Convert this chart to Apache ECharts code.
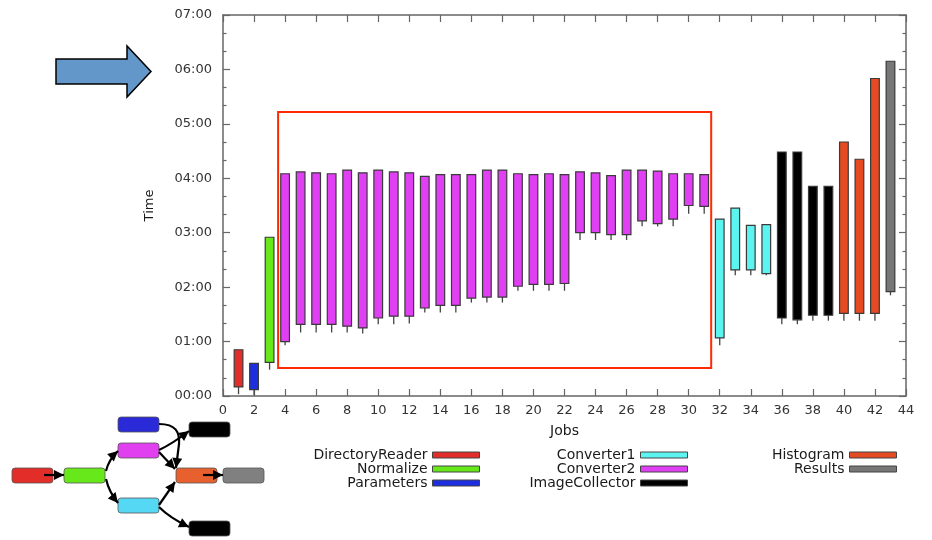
<!DOCTYPE html>
<html>
<head>
<meta charset="utf-8">
<script src="https://cdn.jsdelivr.net/npm/echarts@6/dist/echarts.min.js"></script>
<style>
html,body{margin:0;padding:0;background:#fff;}
#chart{width:932px;height:540px;}
</style>
</head>
<body>
<div id="chart"></div>
<script>
// ---- data (times in minutes) ----
const jobs = [1,2,3,4,5,6,7,8,9,10,11,12,13,14,15,16,17,18,19,20,21,22,23,24,25,26,27,28,29,30,31,32,33,34,35,36,37,38,39,40,41,42,43];
const jobType = ['DirectoryReader','Parameters','Normalize',
  'Converter2','Converter2','Converter2','Converter2','Converter2','Converter2','Converter2',
  'Converter2','Converter2','Converter2','Converter2','Converter2','Converter2','Converter2',
  'Converter2','Converter2','Converter2','Converter2','Converter2','Converter2','Converter2',
  'Converter2','Converter2','Converter2','Converter2','Converter2','Converter2','Converter2',
  'Converter1','Converter1','Converter1','Converter1',
  'ImageCollector','ImageCollector','ImageCollector','ImageCollector',
  'Histogram','Histogram','Histogram','Results'];
const endMin   = [51,36,175,245,247,246,245,249,246,249,247,246,242,244,244,244,249,249,245,244,245,244,247,246,243,249,249,248,245,245,244,195,207,188,189,269,269,231,231,280,261,350,369];
const startMin = [10,7,37,60,79,79,79,77,75,86,88,88,97,100,100,108,109,109,121,123,123,124,180,180,178,178,193,190,195,210,209,64,139,139,135,86,84,89,89,91,91,91,115];
const lowMin   = [2,1,29,56,70,70,70,70,69,79,79,80,92,92,92,103,103,103,116,116,116,116,172,172,172,172,187,187,187,201,201,56,133,133,133,79,79,83,83,83,83,83,111];
const yTicks = ['00:00','01:00','02:00','03:00','04:00','05:00','06:00','07:00'];
const legendCols = [
  ['DirectoryReader','Normalize','Parameters'],
  ['Converter1','Converter2','ImageCollector'],
  ['Histogram','Results']
];
const typeColors = {
  DirectoryReader:'#e22d29', Normalize:'#66e81a', Parameters:'#1c2ee0',
  Converter1:'#5cf4f0', Converter2:'#e03ff4', ImageCollector:'#000000',
  Histogram:'#e64a22', Results:'#777777'
};
const highlight = {x:[3.55,31.45], y:[31,313]};

// ---- chart ----
const chart = echarts.init(document.getElementById('chart'));
const typeOrder = ['DirectoryReader','Normalize','Parameters','Converter1','Converter2','ImageCollector','Histogram','Results'];

function renderItem(params, api){
  const x = api.value(0), lo = api.value(1), st = api.value(2), en = api.value(3);
  const pT = api.coord([x,en]), pB = api.coord([x,st]), pL = api.coord([x,lo]);
  const w = api.size([0.56,0])[0];
  return {type:'group', children:[
    {type:'line', shape:{x1:pB[0],y1:pB[1],x2:pL[0],y2:pL[1]}, style:{stroke:'#444',lineWidth:1.3}},
    {type:'rect', shape:{x:pT[0]-w/2,y:pT[1],width:w,height:pB[1]-pT[1]},
     style:{fill:api.visual('color'),stroke:'#3a3a3a',lineWidth:1.2}}
  ]};
}

const series = typeOrder.map(t=>{
  const data = [];
  jobs.forEach((j,i)=>{ if(jobType[i]===t) data.push([j,lowMin[i],startMin[i],endMin[i]]); });
  const s = {
    type:'custom', name:t, renderItem, data, color:typeColors[t],
    encode:{x:0,y:[1,2,3]}, clip:false, silent:true
  };
  if(t==='Converter2'){
    s.markArea = {silent:true, label:{show:false},
      itemStyle:{color:'rgba(0,0,0,0)',borderColor:'#ff2a00',borderWidth:2},
      data:[[{xAxis:highlight.x[0],yAxis:highlight.y[1]},{xAxis:highlight.x[1],yAxis:highlight.y[0]}]]};
  }
  return s;
});

const axisLineStyle = {color:'#666',width:1.5};
const tickStyle = {color:'#666',width:1.2};
const legendRights = [452,244,35];
const legends = legendCols.map((col,k)=>({
  data:col, orient:'vertical', align:'right', right:legendRights[k], top:448,
  padding:0, itemGap:0, itemWidth:47, itemHeight:6, icon:'rect',
  itemStyle:{borderColor:'#444',borderWidth:1},
  selectedMode:false,
  textStyle:{fontFamily:'DejaVu Sans',fontSize:14,color:'#1a1a1a',lineHeight:14}
}));

// ---- decorations: arrow + workflow diagram ----
function headPts(x1,y1,x2,y2,len,w){
  const a = Math.atan2(y2-y1,x2-x1), c=Math.cos(a), s=Math.sin(a);
  return [[x2,y2],[x2-len*c+w*s,y2-len*s-w*c],[x2-len*c-w*s,y2-len*s+w*c]];
}
const g = [];
g.push({type:'polygon', z:100, shape:{points:[[56,59],[127,59],[127,46],[151,71.5],[127,97],[127,84],[56,84]]},
  style:{fill:'#6497c9',stroke:'#000',lineWidth:1.5}});
const boxes = [
  [12,468,'#e22d29'],[64,468,'#66e81a'],[118,417,'#2a2ad8'],[118,443,'#e040f0'],
  [118,498,'#55d8f4'],[189,422,'#000'],[176,468,'#e8602e'],[223,468,'#808080'],[189,521,'#000']
];
boxes.forEach(b=>g.push({type:'rect',z:100,shape:{x:b[0],y:b[1],width:41,height:15,r:3},
  style:{fill:b[2],stroke:'#555',lineWidth:0.8}}));
function arrowLine(x1,y1,x2,y2){
  g.push({type:'line',z:101,shape:{x1,y1,x2,y2},style:{stroke:'#000',lineWidth:2.2}});
  g.push({type:'polygon',z:102,shape:{points:headPts(x1,y1,x2,y2,10,5)},style:{fill:'#000'}});
}
function arrowCurve(x1,y1,cx,cy,x2,y2){
  g.push({type:'bezierCurve',z:101,shape:{x1,y1,cpx1:cx,cpy1:cy,x2,y2},style:{stroke:'#000',lineWidth:2.2,fill:null}});
  g.push({type:'polygon',z:102,shape:{points:headPts(cx,cy,x2,y2,10,5)},style:{fill:'#000'}});
}
arrowLine(44,475,64,475);
arrowCurve(106,471,109,459,118,451);
arrowCurve(106,479,109,492,118,503);
arrowLine(203,475,223,475);
g.push({type:'bezierCurve',z:101,shape:{x1:159,y1:424,cpx1:176,cpy1:424,cpx2:180,cpy2:432,x2:179,y2:445},style:{stroke:'#000',lineWidth:2.2,fill:null}});
arrowLine(179,444,176,468);
arrowCurve(159,450,172,444,189,431);
arrowLine(159,452,175,469);
arrowLine(159,505,175,482);
arrowCurve(159,507,170,518,189,527);

chart.setOption({
  animation:false,
  backgroundColor:'#fff',
  textStyle:{fontFamily:'DejaVu Sans'},
  grid:{left:223,right:26,top:15,bottom:144},
  legend:legends,
  xAxis:[{
    type:'value',min:0,max:44,interval:2,
    name:'Jobs',nameLocation:'middle',nameGap:28,
    nameTextStyle:{fontSize:14,color:'#1a1a1a',fontFamily:'DejaVu Sans'},
    axisLine:{show:true,onZero:false,lineStyle:axisLineStyle},
    axisTick:{show:true,inside:true,length:7,lineStyle:tickStyle},
    axisLabel:{fontSize:13,color:'#333',margin:8,fontFamily:'DejaVu Sans'},
    splitLine:{show:false}
  },{
    type:'value',position:'top',min:0,max:44,interval:2,
    axisLine:{show:true,onZero:false,lineStyle:axisLineStyle},
    axisTick:{show:true,inside:true,length:7,lineStyle:tickStyle},
    axisLabel:{show:false},splitLine:{show:false}
  }],
  yAxis:[{
    type:'value',min:0,max:420,interval:60,
    name:'Time',nameLocation:'middle',nameGap:67,nameRotate:90,
    nameTextStyle:{fontSize:13,color:'#1a1a1a',fontFamily:'DejaVu Sans'},
    axisLine:{show:true,onZero:false,lineStyle:axisLineStyle},
    axisTick:{show:true,inside:true,length:7,lineStyle:tickStyle},
    minorTick:{show:true,splitNumber:3,length:3.5,lineStyle:tickStyle},
    axisLabel:{fontSize:13,color:'#333',margin:11,fontFamily:'DejaVu Sans',
      formatter:v=>yTicks[Math.round(v/60)]},
    splitLine:{show:false},minorSplitLine:{show:false}
  },{
    type:'value',position:'right',min:0,max:420,interval:60,
    axisLine:{show:true,onZero:false,lineStyle:axisLineStyle},
    axisTick:{show:true,inside:true,length:7,lineStyle:tickStyle},
    minorTick:{show:true,splitNumber:3,length:3.5,lineStyle:tickStyle},
    axisLabel:{show:false},splitLine:{show:false},minorSplitLine:{show:false}
  }],
  series,
  graphic:g
});
</script>
</body>
</html>
